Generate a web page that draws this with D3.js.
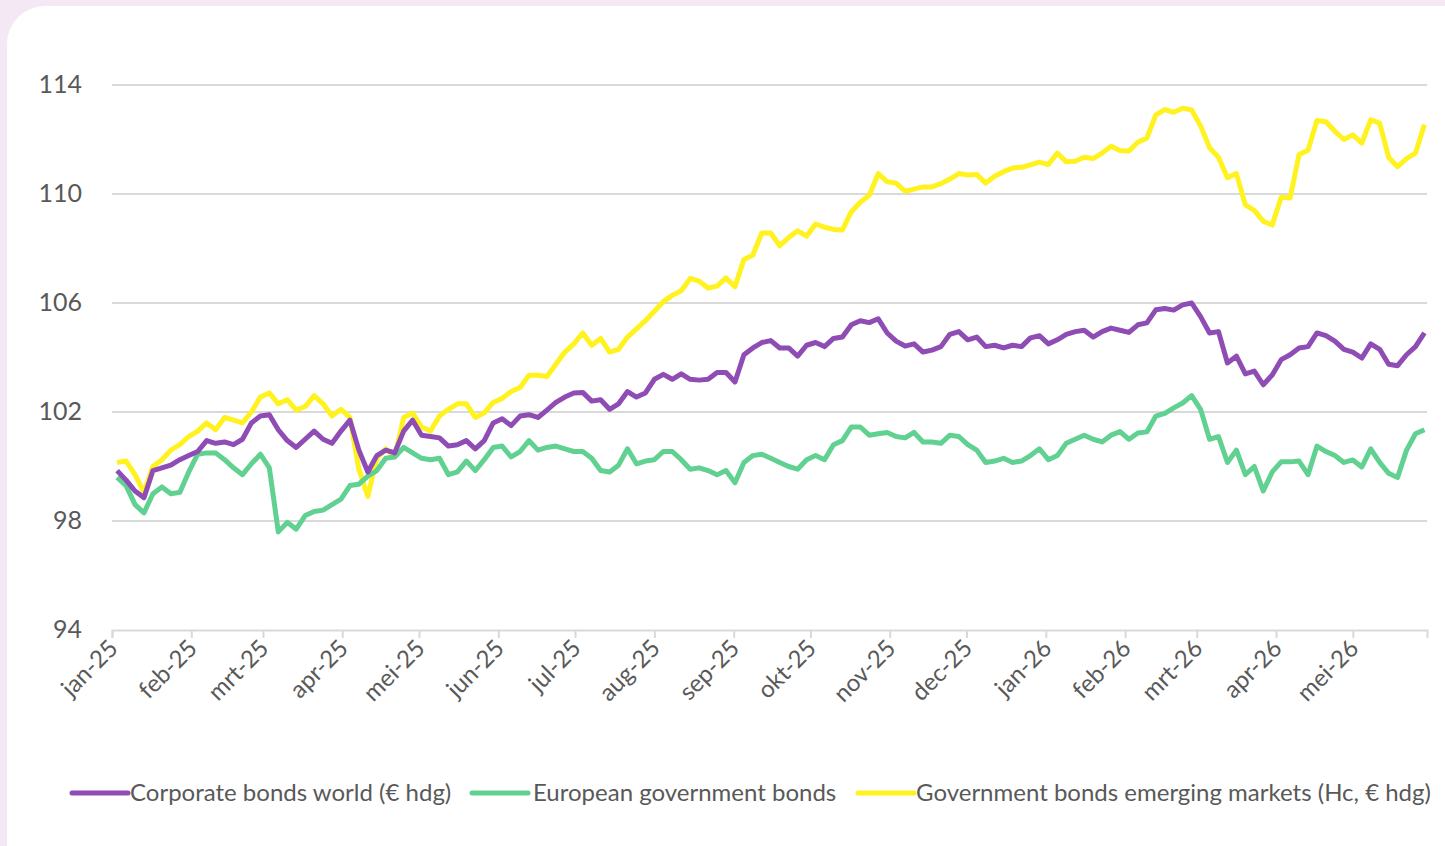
<!DOCTYPE html>
<html>
<head>
<meta charset="utf-8">
<script src="https://cdn.jsdelivr.net/npm/d3@7"></script>
<style>
  body { margin: 0; background: #f4e8f5; font-family: Lato, "Open Sans", sans-serif; }
  #chart { position: absolute; left: 0; top: 0; }
</style>
</head>
<body>
<div id="chart"></div>
<script>
// month tick labels
var months = ["jan-25", "feb-25", "mrt-25", "apr-25", "mei-25", "jun-25", "jul-25", "aug-25",
              "sep-25", "okt-25", "nov-25", "dec-25", "jan-26", "feb-26", "mrt-26", "apr-26", "mei-26"];
var yTicks = [94, 98, 102, 106, 110, 114];

// readings twice a week (every 84 hours), first one on 3 jan 2025
var firstDay = new Date(2025, 0, 3);
var stepHours = 84;

var corporate = [
  99.85, 99.5, 99.1, 98.85, 99.85, 99.95, 100.05, 100.25, 100.4, 100.55,
  100.95, 100.85, 100.9, 100.8, 101.0, 101.6, 101.85, 101.9, 101.35, 100.95,
  100.7, 101.0, 101.3, 101.0, 100.85, 101.3, 101.7, 100.6, 99.8, 100.4,
  100.6, 100.5, 101.3, 101.7, 101.15, 101.1, 101.05, 100.75, 100.8, 100.95,
  100.65, 100.95, 101.6, 101.75, 101.5, 101.85, 101.9, 101.8, 102.07, 102.35,
  102.55, 102.7, 102.72, 102.4, 102.45, 102.1, 102.3, 102.75, 102.55, 102.7,
  103.2, 103.38, 103.2, 103.4, 103.2, 103.17, 103.2, 103.45, 103.45, 103.1,
  104.1, 104.35, 104.55, 104.62, 104.35, 104.35, 104.05, 104.45, 104.55, 104.4,
  104.7, 104.75, 105.2, 105.35, 105.28, 105.42, 104.9, 104.6, 104.42, 104.5,
  104.2, 104.27, 104.4, 104.85, 104.95, 104.65, 104.75, 104.4, 104.45, 104.35,
  104.45, 104.4, 104.72, 104.8, 104.5, 104.65, 104.85, 104.95, 105.0, 104.75,
  104.95, 105.08, 105.0, 104.92, 105.2, 105.27, 105.75, 105.8, 105.74, 105.93,
  106.0, 105.5, 104.9, 104.95, 103.8, 104.05, 103.4, 103.5, 103.0, 103.36,
  103.92, 104.1, 104.35, 104.4, 104.9, 104.8, 104.6, 104.3, 104.2, 103.98,
  104.5, 104.3, 103.75, 103.7, 104.1, 104.4, 104.9];

var european = [
  99.6, 99.3, 98.6, 98.3, 99.0, 99.25, 99.0, 99.05, 99.8, 100.45,
  100.5, 100.5, 100.25, 99.95, 99.7, 100.1, 100.45, 99.95, 97.6, 97.95,
  97.7, 98.2, 98.35, 98.4, 98.6, 98.8, 99.3, 99.35, 99.65, 99.85,
  100.3, 100.35, 100.7, 100.5, 100.3, 100.25, 100.3, 99.7, 99.8, 100.2,
  99.85, 100.25, 100.7, 100.75, 100.35, 100.55, 100.95, 100.6, 100.7, 100.75,
  100.65, 100.55, 100.55, 100.3, 99.85, 99.8, 100.05, 100.65, 100.1, 100.2,
  100.25, 100.55, 100.55, 100.25, 99.9, 99.95, 99.85, 99.7, 99.85, 99.4,
  100.15, 100.4, 100.45, 100.3, 100.15, 100.0, 99.9, 100.25, 100.4, 100.25,
  100.8, 100.95, 101.45, 101.45, 101.15, 101.2, 101.25, 101.1, 101.05, 101.25,
  100.9, 100.9, 100.85, 101.15, 101.1, 100.8, 100.6, 100.15, 100.2, 100.3,
  100.15, 100.2, 100.4, 100.65, 100.25, 100.4, 100.85, 101.0, 101.15, 101.0,
  100.9, 101.15, 101.28, 101.0, 101.23, 101.27, 101.85, 101.95, 102.15, 102.33,
  102.6, 102.1, 101.0, 101.1, 100.15, 100.6, 99.7, 100.0, 99.1, 99.8,
  100.17, 100.17, 100.2, 99.7, 100.75, 100.55, 100.4, 100.15, 100.24, 99.98,
  100.65, 100.15, 99.75, 99.6, 100.6, 101.2, 101.35];

var emerging = [
  100.15, 100.2, 99.7, 99.05, 100.0, 100.25, 100.6, 100.8, 101.1, 101.3,
  101.6, 101.35, 101.8, 101.7, 101.6, 102.0, 102.55, 102.7, 102.3, 102.45,
  102.07, 102.2, 102.6, 102.3, 101.85, 102.1, 101.8, 99.9, 98.9, 100.3,
  100.65, 100.35, 101.8, 101.96, 101.45, 101.3, 101.85, 102.1, 102.3, 102.3,
  101.8, 101.97, 102.35, 102.5, 102.75, 102.9, 103.35, 103.35, 103.3, 103.75,
  104.2, 104.5, 104.9, 104.45, 104.7, 104.2, 104.3, 104.75, 105.05, 105.35,
  105.7, 106.05, 106.28, 106.45, 106.9, 106.8, 106.55, 106.62, 106.92, 106.6,
  107.6, 107.76, 108.57, 108.57, 108.1, 108.4, 108.65, 108.45, 108.9, 108.78,
  108.7, 108.68, 109.35, 109.7, 109.95, 110.75, 110.45, 110.4, 110.1, 110.18,
  110.26, 110.26, 110.38, 110.55, 110.75, 110.7, 110.72, 110.4, 110.65, 110.82,
  110.95, 110.98, 111.07, 111.17, 111.08, 111.5, 111.18, 111.2, 111.35, 111.3,
  111.5, 111.75, 111.6, 111.58, 111.9, 112.05, 112.9, 113.1, 113.0, 113.15,
  113.08, 112.5, 111.7, 111.35, 110.6, 110.75, 109.6, 109.4, 109.0, 108.86,
  109.88, 109.85, 111.45, 111.61, 112.7, 112.65, 112.3, 112.0, 112.17, 111.87,
  112.72, 112.6, 111.35, 111.0, 111.3, 111.5, 112.55];

var seriesNames = ["Corporate bonds world (\u20ac hdg)", "European government bonds",
                   "Government bonds emerging markets (Hc, \u20ac hdg)"];
var colors = ["#8e4cb4", "#60d190", "#fff21e"];

var W = 1445, H = 846;
var svg = d3.select("#chart").append("svg").attr("width", W).attr("height", H);

// white card with rounded corner
svg.append("rect")
   .attr("x", 7).attr("y", 6).attr("width", W + 40).attr("height", H + 40)
   .attr("rx", 38).attr("fill", "#ffffff");

var x = d3.scaleTime()
          .domain([new Date(2025, 0, 1), new Date(2026, 4, 30)])
          .range([112, 1427]);
var y = d3.scaleLinear().domain([94, 114]).range([630, 85]);

// gridlines
svg.append("g").selectAll("line")
   .data(yTicks.slice(1))
   .enter().append("line")
   .attr("x1", 112).attr("x2", 1427)
   .attr("y1", function(d) { return y(d); })
   .attr("y2", function(d) { return y(d); })
   .attr("stroke", "#d9d9d9").attr("stroke-width", 2);

// y labels
svg.append("g").selectAll("text")
   .data(yTicks)
   .enter().append("text")
   .attr("x", 82)
   .attr("y", function(d) { return y(d) + 8; })
   .attr("text-anchor", "end")
   .attr("font-size", 25)
   .attr("fill", "#595959")
   .text(function(d) { return d; });

// x axis
var monthDates = months.map(function(m, i) { return new Date(2025, i, 1); });
var xAxis = d3.axisBottom(x)
              .tickValues(monthDates)
              .tickSize(8)
              .tickFormat(function(d, i) { return months[i]; });

var gx = svg.append("g").attr("transform", "translate(0," + y(94) + ")").call(xAxis);
gx.select(".domain").attr("stroke", "#d9d9d9").attr("stroke-width", 2);
gx.selectAll(".tick line").attr("stroke", "#d9d9d9").attr("stroke-width", 2);
gx.selectAll(".tick text")
  .attr("font-family", "Lato, sans-serif")
  .attr("font-size", 24)
  .attr("fill", "#595959")
  .attr("text-anchor", "end")
  .attr("dy", null)
  .attr("transform", "translate(-1,12) rotate(-45)");

// lines
var allSeries = [corporate, european, emerging];
var line = d3.line()
             .x(function(d, i) { return x(d3.timeHour.offset(firstDay, i * stepHours)); })
             .y(function(d) { return y(d); });

svg.append("g").selectAll("path")
   .data([emerging, european, corporate])
   .enter().append("path")
   .attr("d", line)
   .attr("fill", "none")
   .attr("stroke", function(d) { return colors[allSeries.indexOf(d)]; })
   .attr("stroke-width", 5)
   .attr("stroke-linejoin", "round");

// legend
var legendX = [72, 472, 858];
var lg = svg.append("g").selectAll("g")
            .data(seriesNames)
            .enter().append("g")
            .attr("transform", function(d, i) { return "translate(" + legendX[i] + ",793)"; });
lg.append("line")
  .attr("x1", 0).attr("x2", 56).attr("y1", 0).attr("y2", 0)
  .attr("stroke", function(d, i) { return colors[i]; })
  .attr("stroke-width", 5).attr("stroke-linecap", "round");
lg.append("text")
  .attr("x", function(d, i) { return i == 1 ? 61 : 58; }).attr("y", 8)
  .attr("font-size", 24)
  .attr("fill", "#595959")
  .text(function(d) { return d; });
</script>
</body>
</html>
